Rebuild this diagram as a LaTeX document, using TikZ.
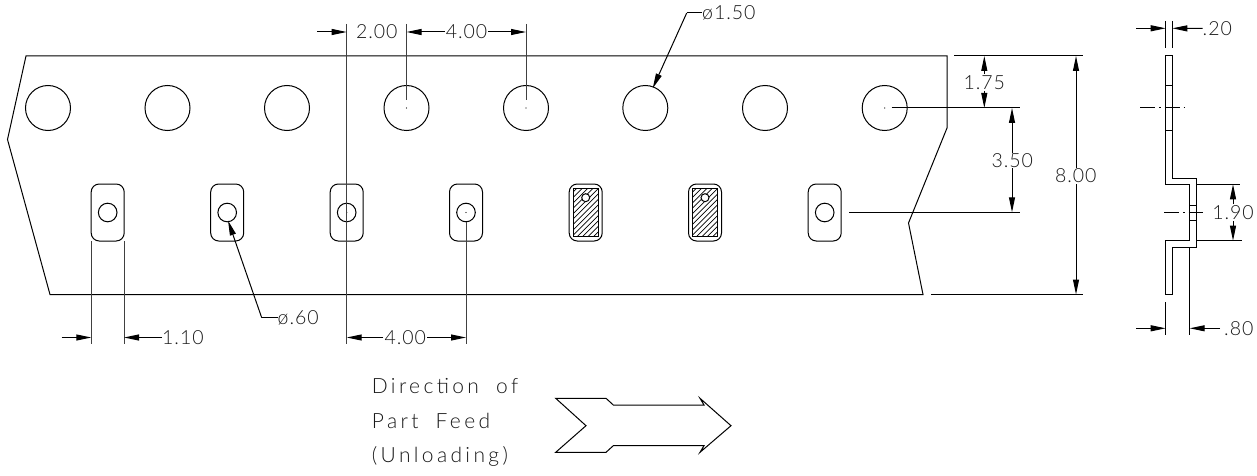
\documentclass[tikz,border=0pt]{standalone}
\usepackage{fontspec}
\setmainfont{Lato}[UprightFont=* Light,LetterSpace=5]
\usetikzlibrary{arrows.meta}
\tikzset{
  dwg/.style={line width=1pt,draw=black},
  dimtip/.style={line width=1pt,draw=black,-{Triangle[length=15pt,width=6pt]},shorten >=0pt},
  extline/.style={line width=1pt,draw=black!75},
  dimtxt/.style={font=\fontsize{19.5}{19.5}\selectfont,inner sep=0pt,text=black!90},
  feedtxt/.style={font=\fontsize{21}{21}\selectfont\addfontfeatures{LetterSpace=16},inner sep=0pt,anchor=west,text=black!90},
  cline/.style={line width=1pt,draw=black,dash pattern=on 15pt off 4pt on 1.5pt off 4pt},
  holec/.style={circle,draw=black,line width=1pt,minimum size=45pt,inner sep=0pt,outer sep=0pt},
  pinc/.style={circle,draw=black,line width=1pt,minimum size=18.6pt,inner sep=0pt,outer sep=0pt},
  pocket/.style={rounded corners=8pt,line width=1pt,draw=black},
  dotp/.style={fill=black,draw=none}
}
\begin{document}
\begin{tikzpicture}[x=1pt,y=-1pt]
\useasboundingbox (0,0) rectangle (1257,476);
% tape outline
\draw[dwg] (26,56) -- (947,56) -- (947,128) -- (908.5,223) -- (923,294.5) -- (50,294.5) -- (7.5,139.5) -- cycle;
% sprocket holes
\foreach \n/\x in {1/48,2/167.5,3/287,4/406.5,5/526,6/645.3,7/765,8/884.7}
  \node[holec] (hole\n) at (\x,108) {};
\foreach \n in {4,5,8} \fill[dotp] (hole\n.center) circle (0.6pt);
% pockets
\foreach \n/\x in {1/107.7,2/227.2,3/346.7,4/466,5/585.7,6/705,7/824.7}
  \draw[pocket] (\x-16.5,184) rectangle (\x+16.5,241);
\foreach \n/\x in {1/107.7,2/227.2,3/346.7,4/466,7/824.7}
  \node[pinc] (pin\n) at (\x,212.5) {};
\foreach \n in {3,4} \fill[dotp] (pin\n.center) circle (0.6pt);
% hatched parts
\foreach \x in {585.7,705}{
  \begin{scope}
    \clip (\x-12.5,188.3) rectangle (\x+12.5,236.7);
    \foreach \d in {-60,-54.6,...,60}
      \draw[line width=0.7pt] (\x+\d-30,212.5+30) -- (\x+\d+30,212.5-30);
  \end{scope}
  \draw[line width=1.3pt] (\x-12.5,188.3) rectangle (\x+12.5,236.7);
  \draw[line width=1pt,fill=white] (\x,197.7) circle (4pt);
}
% top dims
\draw[extline] (346.7,24) -- (346.7,344);
\draw[extline] (406.5,24) -- (406.5,100);
\draw[extline] (526,24) -- (526,100);
\node[dimtxt] (t200) at (376.7,32) {2.00};
\node[dimtxt] (t400a) at (466.5,32) {4.00};
\coordinate (a1) at (317,32);
\draw[dimtip] (a1) -- (346.7,32);
\draw[dimtip] (t400a.west) ++(-1,0) -- (406.5,32);
\draw[dimtip] (t400a.east) ++(1,0) -- (526,32);
% phi 1.50
\node[dimtxt,anchor=west] (t150) at (702,13) {ø1.50};
\coordinate (k1) at (686.7,13);
\draw[line width=1pt] (t150.west) -- (k1);
\draw[dimtip] (k1) -- (652.7,88.3);
% phi .60
\node[dimtxt,anchor=west] (t60) at (277.5,317.7) {ø.60};
\coordinate (k2) at (261.7,317.7);
\draw[line width=1pt] (t60.west) -- (k2);
\draw[dimtip] (k2) -- (228,220.5);
% 1.10
\draw[extline] (91.3,241) -- (91.3,344);
\draw[extline] (124,241) -- (124,344);
\node[dimtxt,anchor=west] (t110) at (162,337.5) {1.10};
\coordinate (a2) at (61.7,337.5);
\draw[dimtip] (a2) -- (91.3,337.5);
\draw[dimtip] (t110.west) -- (124,337.5);
% 4.00 lower
\draw[extline] (466,222) -- (466,344);
\node[dimtxt] (t400b) at (405.3,337.5) {4.00};
\draw[dimtip] (t400b.west) ++(-1,0) -- (346.7,337.5);
\draw[dimtip] (t400b.east) ++(1,0) -- (466,337.5);
% right extension lines
\draw[dwg] (954,56) -- (1083,56);
\draw[dwg] (931,294.5) -- (1083,294.5);
\draw[dwg] (891.7,108) -- (1020,108);
\draw[dwg] (849,212.3) -- (1020,212.3);
% 1.75
\node[dimtxt] (t175) at (984.3,82.3) {1.75};
\draw[dimtip] (984.3,74) -- (984.3,56);
\draw[dimtip] (984.3,91) -- (984.3,108);
% 3.50
\node[dimtxt] (t350) at (1012.3,160.7) {3.50};
\draw[dimtip] (1012,153) -- (1012,108);
\draw[dimtip] (1012,168) -- (1012,212.3);
% 8.00
\node[dimtxt] (t800) at (1075.8,175.7) {8.00};
\draw[dimtip] (1076,168) -- (1076,56);
\draw[dimtip] (1076,184) -- (1076,294.5);
% side view
\draw[dwg] (1165.7,56) -- (1172.3,56) -- (1172.3,178.3) -- (1196,178.3) -- (1196,247) -- (1172.3,247) -- (1172.3,294.3) -- (1165.7,294.3) -- (1165.7,240.7) -- (1189.7,240.7) -- (1189.7,184.3) -- (1165.7,184.3) -- cycle;
\draw[dwg] (1165.7,86) -- (1172.3,86) (1165.7,130) -- (1172.3,130);
\draw[dwg] (1189.7,205) -- (1196,205) (1189.7,220) -- (1196,220);
\draw[cline] (1140,108) -- (1184.3,108);
\draw[cline] (1164,212.3) -- (1202.7,212.3);
% .20
\draw[dwg] (1165.7,21) -- (1165.7,48) (1172.3,21) -- (1172.3,48);
\node[dimtxt,anchor=west] (t20) at (1202.5,28.5) {.20};
\coordinate (a3) at (1136,28.3);
\draw[dimtip] (a3) -- (1165.7,28.3);
\draw[dimtip] (t20.west) -- (1172.3,28.3);
% 1.90
\draw[dwg] (1197.3,184.3) -- (1240,184.3);
\draw[dwg] (1197.3,240.7) -- (1241.7,240.7);
\node[dimtxt] (t190) at (1233,212.7) {1.90};
\draw[dimtip] (1233,204) -- (1233,184.3);
\draw[dimtip] (1233,221) -- (1233,240.7);
% .80
\draw[dwg] (1165.7,302.3) -- (1165.7,335);
\draw[dwg] (1189.7,247) -- (1189.7,335);
\node[dimtxt,anchor=west] (t80) at (1224,328.5) {.80};
\coordinate (a4) at (1136,328.3);
\coordinate (a5) at (1220,328.3);
\draw[dimtip] (a4) -- (1165.7,328.3);
\draw[dimtip] (a5) -- (1189.7,328.3);
% direction text
\node[feedtxt] (d1) at (371.7,386) {Direction\hspace{8pt} of};
\node[feedtxt] (d2) at (371.7,421) {Part\hspace{8pt} Feed};
\node[feedtxt] (d3) at (371.7,456.7) {(Unloading)};
% feed arrow
\draw[dwg,line join=miter] (555.7,398.3) -- (606,398.3) -- (613.3,405) -- (704,405) -- (700,398.3) -- (731,425.7) -- (700,452.3) -- (704,445.7) -- (613.3,445.7) -- (606,452.3) -- (555.7,452.3) -- (586,425.7) -- cycle;
\end{tikzpicture}
\end{document}
